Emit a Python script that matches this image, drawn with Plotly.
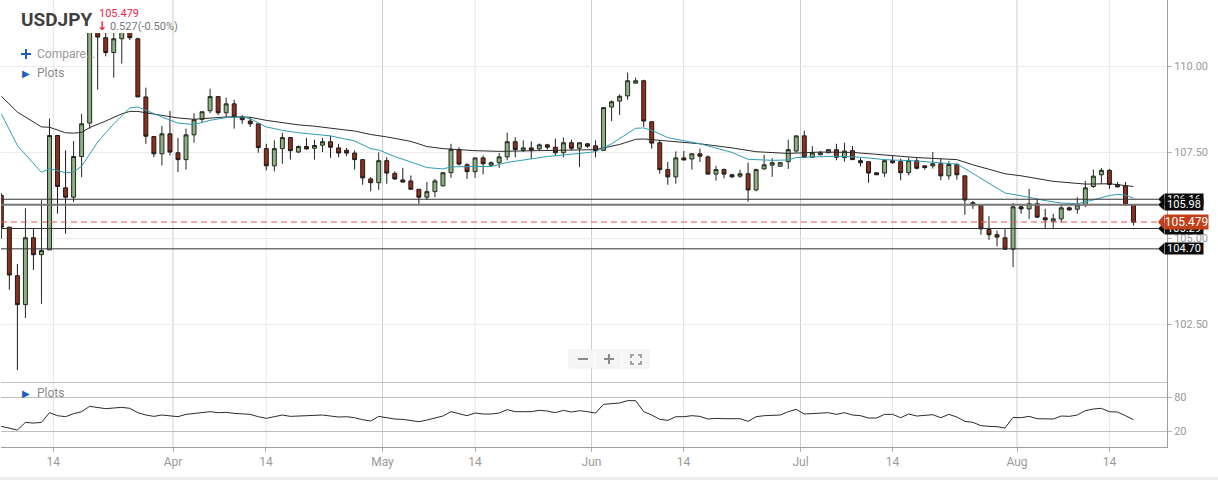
import plotly.graph_objects as go

W, H = 1218, 480
def px(x): return x / W
def py(y): return 1 - y / H

open_ = [106.25,105.33,103.92,103.08,105.02,104.53,104.67,107.99,106.47,106.20,107.38,108.35,111.20,110.83,110.40,110.80,111.10,110.80,109.11,107.96,107.46,108.04,107.49,107.29,108.01,108.46,108.71,109.12,108.65,108.91,108.53,108.41,108.33,107.61,107.11,107.61,107.93,107.51,
107.67,107.62,107.71,107.81,107.63,107.56,107.48,107.29,106.73,106.62,107.26,106.89,106.70,106.67,106.43,106.20,106.36,106.53,106.91,107.58,107.14,106.94,107.34,107.13,107.20,107.37,107.81,107.56,107.63,107.60,107.72,107.65,107.49,107.78,107.62,107.75,107.69,
107.56,108.82,108.99,109.14,109.51,109.58,108.39,107.78,107.00,106.79,107.34,107.31,107.46,107.37,106.87,107.00,106.85,106.81,106.88,106.41,107.02,107.13,107.10,107.23,107.54,107.98,107.36,107.43,107.49,107.58,107.35,107.55,107.26,107.23,106.91,106.90,
107.26,107.23,106.91,107.26,107.11,107.11,107.17,106.82,107.15,106.82,106.04,105.97,105.26,105.11,105.02,104.69,105.92,105.86,106.01,105.60,105.50,105.57,105.89,105.85,105.98,106.51,106.85,106.98,106.57,106.53,105.97]
high = [106.32,105.33,104.26,105.88,105.30,106.11,108.48,107.99,107.56,107.83,108.62,111.50,111.40,111.00,111.10,111.40,111.30,110.83,109.38,107.96,108.27,108.70,107.92,108.19,108.64,108.68,109.35,109.12,109.09,109.03,108.58,108.53,108.33,107.75,107.85,108.07,107.93,107.70,
107.92,107.87,107.92,107.99,107.75,107.63,107.56,107.29,106.78,107.50,107.36,106.95,107.05,106.83,106.43,106.64,106.73,106.93,107.75,107.65,107.19,107.34,107.41,107.24,107.48,108.07,107.94,107.85,107.82,107.76,107.75,107.90,107.93,107.87,107.78,107.77,107.85,
108.82,109.01,109.18,109.82,109.67,109.61,108.41,107.85,107.22,107.53,107.54,107.46,107.61,107.41,107.11,107.03,106.88,107.00,107.20,107.03,107.43,107.33,107.22,107.87,107.98,108.13,107.68,107.54,107.58,107.75,107.78,107.69,107.34,107.23,106.91,107.29,
107.41,107.32,107.35,107.35,107.11,107.51,107.32,107.25,107.19,106.82,106.09,105.99,105.65,105.23,105.27,106.03,105.95,106.44,106.15,105.86,105.72,105.99,105.93,106.20,106.67,107.00,107.05,107.01,106.64,106.64,105.97]
low = [104.99,103.51,101.18,102.69,104.09,103.10,104.67,105.72,105.14,106.06,106.78,108.19,109.32,110.29,109.67,110.08,110.76,109.11,107.75,107.36,107.12,107.41,106.93,107.00,107.78,108.38,108.64,108.58,108.53,108.19,108.33,108.24,107.49,106.98,106.95,107.17,107.29,107.48,
107.58,107.29,107.51,107.34,107.36,107.39,107.00,106.56,106.37,106.41,106.59,106.70,106.62,106.42,105.98,106.12,106.20,106.51,106.76,107.12,106.73,106.76,106.86,107.09,107.05,107.27,107.36,107.51,107.31,107.56,107.58,107.39,107.36,107.56,107.07,107.63,107.36,
107.54,108.41,108.59,109.03,109.50,108.24,107.61,106.88,106.56,106.59,107.27,107.00,107.22,106.86,106.68,106.75,106.76,106.76,106.07,106.37,107.00,106.79,107.08,107.02,107.49,107.34,107.34,107.42,107.48,107.27,107.23,107.28,107.09,106.62,106.85,106.79,
107.17,106.69,106.83,107.00,107.00,107.03,106.69,106.71,106.71,105.69,105.86,105.11,104.96,104.77,104.67,104.17,105.72,105.57,105.60,105.31,105.31,105.46,105.81,105.72,105.91,106.47,106.59,106.44,106.48,105.95,105.38]
close = [105.33,103.94,103.08,105.02,104.53,104.65,107.99,106.51,106.20,107.38,108.33,111.20,110.85,110.40,110.80,111.20,110.83,109.11,107.97,107.46,108.04,107.51,107.29,108.01,108.45,108.68,109.12,108.65,108.91,108.53,108.45,108.33,107.64,107.11,107.61,107.93,107.55,107.67,
107.60,107.70,107.81,107.65,107.48,107.48,107.29,106.76,106.62,107.26,106.90,106.73,106.64,106.43,106.20,106.36,106.67,106.91,107.59,107.16,106.94,107.34,107.17,107.20,107.37,107.81,107.58,107.63,107.56,107.72,107.65,107.49,107.78,107.62,107.78,107.68,107.55,
108.80,108.97,109.13,109.58,109.58,108.41,107.77,107.00,106.79,107.34,107.28,107.46,107.39,106.87,107.00,106.87,106.79,106.88,106.41,107.00,107.14,107.20,107.20,107.58,107.98,107.36,107.49,107.49,107.58,107.36,107.54,107.29,107.20,106.90,106.85,107.26,
107.20,106.91,107.26,107.04,107.06,107.17,106.82,107.15,106.85,106.12,105.97,105.28,105.11,105.04,104.69,105.92,105.86,106.01,105.62,105.54,105.57,105.89,105.83,105.98,106.47,106.81,106.98,106.57,106.50,105.98,105.47]
candle_idx = list(range(len(close)))

ma_black_idx = [0,2,5,6,8,9,10,11,13,15,16,17,18,20,22,24,26,28,30,31,33,35,37,39,41,44,46,48,51,53,55,56,59,62,66,70,74,77,79,80,81,83,87,91,94,98,102,106,110,114,119,121,125,127,131,135,138,141]
ma_black = [109.13,108.67,108.24,108.23,108.07,108.06,108.08,108.22,108.41,108.62,108.69,108.69,108.65,108.58,108.50,108.46,108.50,108.53,108.53,108.52,108.43,108.36,108.30,108.26,108.21,108.12,108.02,107.95,107.82,107.67,107.61,107.59,107.55,107.53,107.54,107.55,107.58,107.73,107.88,107.89,107.87,107.81,107.75,107.63,107.52,107.47,107.51,107.50,107.42,107.35,107.29,107.14,106.88,106.82,106.66,106.58,106.59,106.51]
ma_teal_idx = [0,2,5,6,8,9,10,12,14,16,17,18,20,22,24,26,28,30,31,33,35,37,41,44,46,47,49,51,53,55,56,59,61,63,66,68,72,74,76,79,80,81,83,85,87,91,93,96,98,99,104,107,109,110,114,119,120,123,125,127,130,132,134,136,138,139,140,141]
ma_teal = [108.62,107.70,106.92,107.03,106.91,106.93,107.10,107.80,108.33,108.79,108.82,108.72,108.53,108.35,108.31,108.43,108.51,108.53,108.48,108.24,108.14,108.07,107.98,107.83,107.61,107.57,107.38,107.22,107.06,107.02,107.08,107.09,107.09,107.21,107.30,107.38,107.47,107.52,107.75,108.20,108.21,108.14,107.93,107.83,107.75,107.50,107.30,107.27,107.28,107.35,107.39,107.36,107.30,107.29,107.25,107.16,107.03,106.59,106.32,106.24,106.10,106.03,106.01,106.12,106.25,106.28,106.26,106.17]

osc = [28.4,24.8,21.8,35.5,34.3,35.5,52.9,47.5,45.7,51.1,54.7,64.3,62.5,60.1,61.3,62.5,60.7,52.9,48.7,46.3,48.7,46.9,45.7,49.9,51.7,53.5,54.7,52.9,53.5,51.7,50.5,49.9,45.7,42.7,45.7,48.7,46.3,46.9,47.5,47.5,48.7,46.9,45.1,45.7,43.9,40.3,37.9,46.3,43.3,41.5,40.9,38.5,36.7,39.7,43.9,46.9,54.7,50.5,47.5,52.3,50.5,50.5,52.3,58.3,54.7,54.7,54.7,57.1,55.9,52.9,57.1,54.1,56.5,54.7,52.3,67.9,
68.5,70.3,74.5,74.5,54.7,48.7,41.0,39.1,45.7,45.7,47.5,46.3,41.5,42.7,42.1,41.5,42.1,37.3,45.7,47.5,48.7,48.7,54.7,58.9,50.5,51.7,52.3,52.9,49.9,52.9,48.7,47.5,43.3,43.3,49.9,49.9,43.9,50.5,46.9,48.1,49.3,43.9,49.9,45.1,37.3,35.5,29.6,28.4,27.8,25.4,44.5,43.9,46.3,42.1,41.5,41.5,46.9,46.3,48.7,56.5,59.5,60.7,54.7,54.1,47.5,40.3]

month_ticks = [21.38, 47.47, 73.5, 99.53, 126.49]
mid_ticks = [6.48, 32.96, 58.99, 84.96, 110.98, 138.02]
x_ticks = [6.48, 21.38, 32.96, 47.47, 58.99, 73.5, 84.96, 99.53, 110.98, 126.49, 138.02]
x_labels = ["14", "Apr", "14", "May", "14", "Jun", "14", "Jul", "14", "Aug", "14"]
price_ticks = [110, 107.5, 105, 102.5]
price_labels = ["110.00", "107.50", "105.00", "102.50"]
osc_ticks = [80, 20]
levels = [106.14, 105.98, 105.29, 104.70]
level_labels = ["106.16", "105.98", "105.29", "104.70"]
last_price = 105.479

FONT = "Roboto"
GREY = "#9a9a9a"
fig = go.Figure()

fig.add_trace(go.Candlestick(
    x=candle_idx, open=open_, high=high, low=low, close=close, xaxis="x", yaxis="y",
    whiskerwidth=0, hoverinfo="skip", showlegend=False,
    increasing=dict(fillcolor="#8fb084", line=dict(color="#1f2a1c", width=1)),
    decreasing=dict(fillcolor="#8c2f1d", line=dict(color="#1f1a18", width=1)),
))
fig.add_trace(go.Scatter(x=ma_black_idx, y=ma_black, mode="lines", xaxis="x", yaxis="y",
    line=dict(color="#2b2b2b", width=1), hoverinfo="skip", showlegend=False))
fig.add_trace(go.Scatter(x=ma_teal_idx, y=ma_teal, mode="lines", xaxis="x", yaxis="y",
    line=dict(color="#2f9db6", width=1), hoverinfo="skip", showlegend=False))
fig.add_trace(go.Scatter(x=candle_idx, y=osc, mode="lines", xaxis="x2", yaxis="y2",
    line=dict(color="#2b2b2b", width=1), hoverinfo="skip", showlegend=False))

shapes = []
for v in month_ticks:
    shapes.append(dict(type="line", xref="x", yref="paper", x0=v, x1=v, y0=py(447), y1=1,
                       line=dict(color="#cfcfcf", width=1), layer="below"))
for v in mid_ticks:
    shapes.append(dict(type="line", xref="x", yref="paper", x0=v, x1=v, y0=py(447), y1=1,
                       line=dict(color="#e6e6e6", width=1), layer="below"))
shapes.append(dict(type="rect", xref="paper", yref="paper", x0=px(80), x1=px(137), y0=py(33), y1=1,
                   fillcolor="white", line=dict(width=0), layer="above"))
for i, lv in enumerate(levels):
    thick = lv == 105.98
    shapes.append(dict(type="line", xref="paper", yref="y", x0=px(1), x1=px(1158), y0=lv, y1=lv,
                       line=dict(color="#777777" if thick else "#333333", width=2 if thick else 1), layer="above"))
shapes.append(dict(type="line", xref="paper", yref="y", x0=px(1), x1=px(1158), y0=last_price, y1=last_price,
                   line=dict(color="#e0564f", width=1, dash="6px,4px"), layer="above"))
shapes.append(dict(type="rect", xref="paper", yref="paper", x0=px(569), x1=px(649), y0=py(368), y1=py(350),
                   fillcolor="#f6f6f6", line=dict(color="#efefef", width=1), layer="above"))
for xa in (595, 622):
    shapes.append(dict(type="line", xref="paper", yref="paper", x0=px(xa), x1=px(xa), y0=py(368), y1=py(350),
                       line=dict(color="#ffffff", width=1), layer="above"))
for a, b in (((578, 359), (588, 359)), ((604, 359), (614, 359)), ((609, 354), (609, 364))):
    shapes.append(dict(type="line", xref="paper", yref="paper", x0=px(a[0]), x1=px(b[0]), y0=py(a[1]), y1=py(b[1]),
                       line=dict(color="#8a8a8a", width=2), layer="above"))
for cx, cy, dx, dy in ((631, 355, 1, 1), (641, 355, -1, 1), (631, 364, 1, -1), (641, 364, -1, -1)):
    shapes.append(dict(type="path", xref="paper", yref="paper",
        path=f"M {px(cx+3*dx)} {py(cy)} L {px(cx)} {py(cy)} L {px(cx)} {py(cy+3*dy)}",
        line=dict(color="#8a8a8a", width=1.5), layer="above"))
shapes.append(dict(type="rect", xref="paper", yref="paper", x0=0, x1=1, y0=0, y1=py(477),
                   fillcolor="#eeeeee", line=dict(width=0), layer="below"))
# compare plus sign
for a, b in (((21, 54), (31, 54)), ((26, 49), (26, 59))):
    shapes.append(dict(type="line", xref="paper", yref="paper", x0=px(a[0]), x1=px(b[0]), y0=py(a[1]), y1=py(b[1]),
                       line=dict(color="#1e5fbf", width=2), layer="above"))

annotations = []
def text(x, y, s, size=11, color="#8a8a8a", **kw):
    annotations.append(dict(xref="paper", yref="paper", x=px(x), y=py(y), text=s, showarrow=False,
                            xanchor="left", yanchor="middle", font=dict(family=FONT, size=size, color=color), **kw))

def glyph(x, y, s, size, color):
    annotations.append(dict(xref="paper", yref="paper", x=px(x), y=py(y), text=s, showarrow=False,
                            xanchor="center", yanchor="middle", font=dict(family="DejaVu Sans", size=size, color=color)))

def tag(value, label, fill, right, half_price, size):
    shapes.append(dict(type="path", xref="paper", yref="y",
        path=f"M {px(1158)} {value} L {px(1164)} {value + half_price} L {px(1164)} {value - half_price} Z",
        fillcolor=fill, line=dict(width=0), layer="above"))
    annotations.append(dict(xref="paper", yref="y", x=px(1164), y=value, xanchor="left", yanchor="middle",
        text=label, showarrow=False, bgcolor=fill, borderpad=0, width=right - 1164, height=2 * half_price * 34.44,
        align="center", valign="middle", font=dict(family=FONT, size=size, color="white")))

for lv, lb in zip(levels, level_labels):
    tag(lv, lb, "#0c0c0c", 1202, 0.16, 11)
tag(last_price, "105.479", "#c43e17", 1207, 0.21, 12)

text(19, 20, "<b>USDJPY</b>", size=19, color="#3f3f3f")
text(97, 13, "105.479", size=11, color="#e8274b")
glyph(102, 26, "<b>↓</b>", 12, "#e8274b")
text(108, 26, "0.527(-0.50%)", size=11, color="#777777")
text(35, 54.5, "Compare...", size=12, color="#999999")
for yy in (73, 393):
    glyph(26, yy, "▶", 10, "#1e5fbf")
    text(35, yy, "Plots", size=12, color="#8a8a8a")

fig.update_layout(
    width=W, height=H, margin=dict(l=0, r=0, t=0, b=0), autosize=False,
    paper_bgcolor="white", plot_bgcolor="white", showlegend=False, dragmode=False,
    font=dict(family=FONT, size=11, color=GREY),
    xaxis=dict(domain=[px(1), px(1167)], range=[-0.04, 145.17], anchor="y", showticklabels=False, showgrid=False,
               zeroline=False, rangeslider=dict(visible=False), showline=True, linecolor="#c4c4c4", ticks=""),
    xaxis2=dict(domain=[px(1), px(1167)], range=[-0.04, 145.17], anchor="y2", tickmode="array", tickvals=x_ticks,
                ticktext=x_labels, showgrid=False, zeroline=False, showline=True, linecolor="#9e9e9e",
                ticks="outside", ticklen=4, tickcolor="#b5b5b5", tickfont=dict(family=FONT, size=12, color=GREY)),
    yaxis=dict(domain=[py(381.6), 1], range=[100.845, 111.925], anchor="x", side="right", tickmode="array",
               tickvals=price_ticks, ticktext=price_labels, showgrid=True, gridcolor="#ececec", zeroline=False,
               showline=True, linecolor="#9e9e9e", ticks="outside", ticklen=4, tickcolor="#b5b5b5",
               tickfont=dict(family=FONT, size=11, color=GREY)),
    yaxis2=dict(domain=[py(447), py(381.6)], range=[-8.7, 108.7], anchor="x2", side="right", tickmode="array",
                tickvals=osc_ticks, ticktext=["80", "20"], showgrid=True, gridcolor="#bdbdbd", zeroline=False,
                showline=True, linecolor="#9e9e9e", ticks="outside", ticklen=4, tickcolor="#b5b5b5",
                tickfont=dict(family=FONT, size=11, color=GREY)),
    shapes=shapes, annotations=annotations,
)
fig.write_html("out.html", config=dict(displayModeBar=False, staticPlot=True),
               post_script="document.body.style.margin='0';")
